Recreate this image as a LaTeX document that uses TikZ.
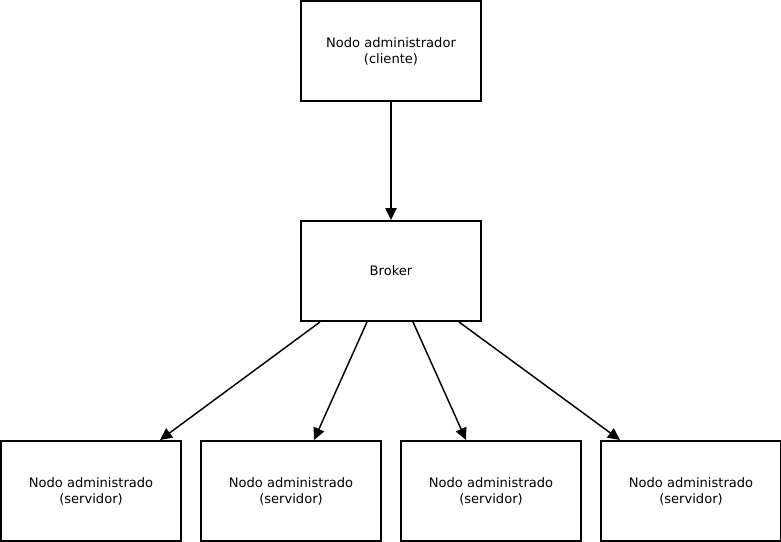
\documentclass[tikz,border=0pt]{standalone}
\usepackage{fontspec}
\setmainfont{DejaVu Sans}
\usetikzlibrary{arrows.meta,calc}
\begin{document}
\begin{tikzpicture}[x=0.75pt,y=-0.75pt,
  box/.style={draw,line width=1.5pt,minimum width=135pt,minimum height=75pt,inner sep=0pt,align=center,font=\fontsize{9.8pt}{12pt}\selectfont},
  conn/.style={line width=1.1pt,-{Triangle[length=9pt,width=8.5pt]}}]
\useasboundingbox (0,0) rectangle (781,542);
\node[box] (adm) at (391,51) {Nodo administrador\\(cliente)};
\node[box] (brk) at (391,271) {Broker};
\node[box] (s1) at (91,491) {Nodo administrado\\(servidor)};
\node[box] (s2) at (291,491) {Nodo administrado\\(servidor)};
\node[box] (s3) at (491,491) {Nodo administrado\\(servidor)};
\node[box] (s4) at (691,491) {Nodo administrado\\(servidor)};
\draw[conn] (adm.south) -- (brk.north);
\draw[conn] ($(brk.south west)+(20,0)$) -- ($(s1.north west)+(160,0)$);
\draw[conn] ($(brk.south west)+(67,0)$) -- ($(s2.north west)+(114,0)$);
\draw[conn] ($(brk.south west)+(113,0)$) -- ($(s3.north west)+(66,0)$);
\draw[conn] ($(brk.south west)+(159,0)$) -- ($(s4.north west)+(20,0)$);
\end{tikzpicture}
\end{document}
